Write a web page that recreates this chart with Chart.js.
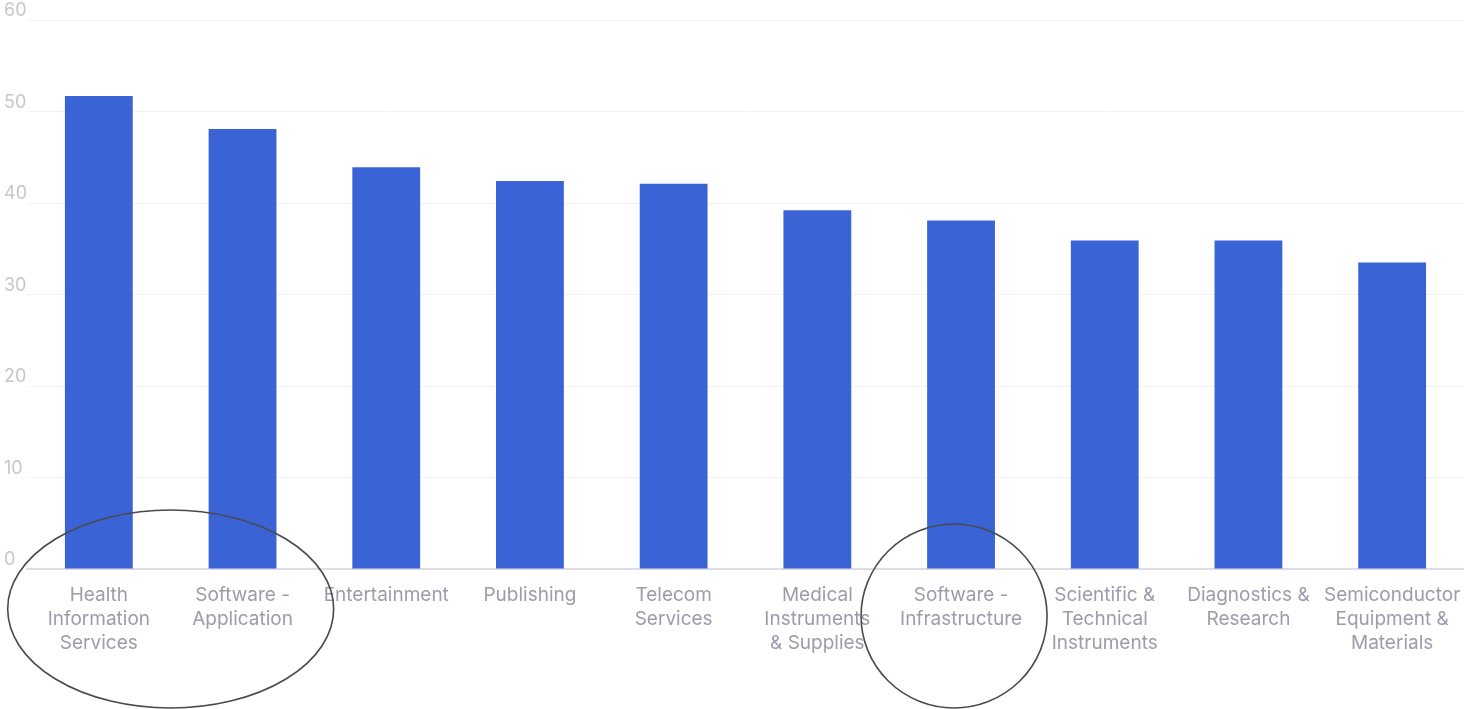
<!DOCTYPE html>
<html>
<head>
<meta charset="utf-8">
<script src="https://cdn.jsdelivr.net/npm/chart.js@4.4.1/dist/chart.umd.min.js"></script>
<style>
  html, body { margin: 0; padding: 0; background: #fff; }
  #wrap { width: 1464px; height: 709px; }
</style>
</head>
<body>
<div id="wrap"><canvas id="myChart" width="1464" height="709"></canvas></div>
<script>
const industries = [
  ['Health', 'Information', 'Services'],
  ['Software -', 'Application'],
  'Entertainment',
  'Publishing',
  ['Telecom', 'Services'],
  ['Medical', 'Instruments', '& Supplies'],
  ['Software -', 'Infrastructure'],
  ['Scientific &', 'Technical', 'Instruments'],
  ['Diagnostics &', 'Research'],
  ['Semiconductor', 'Equipment &', 'Materials']
];
const values = [51.7, 48.1, 43.9, 42.4, 42.1, 39.2, 38.1, 35.9, 35.9, 33.5];
const yTicks = [0, 10, 20, 30, 40, 50, 60];

// pen circles around a few of the categories
const circled = [
  { from: 0, to: 1, rx: 163, ry: 99, dx: 0, dy: 40 },
  { from: 6, to: 6, rx: 93, ry: 92, dx: -7, dy: 47 }
];

const circlePlugin = {
  id: 'circles',
  afterDraw(chart) {
    const ctx = chart.ctx;
    const x = chart.scales.x;
    const bottom = chart.chartArea.bottom;
    ctx.save();
    ctx.strokeStyle = '#4a4a4a';
    ctx.lineWidth = 1.6;
    circled.forEach(c => {
      const cx = (x.getPixelForValue(c.from) + x.getPixelForValue(c.to)) / 2 + c.dx;
      ctx.beginPath();
      ctx.ellipse(cx, bottom + c.dy, c.rx, c.ry, 0, 0, Math.PI * 2);
      ctx.stroke();
    });
    ctx.restore();
  }
};

new Chart(document.getElementById('myChart'), {
  type: 'bar',
  data: {
    labels: industries,
    datasets: [{
      data: values,
      backgroundColor: '#3a64d6',
      borderWidth: 0,
      categoryPercentage: 0.8,
      barPercentage: 0.59
    }]
  },
  options: {
    responsive: false,
    animation: false,
    layout: { padding: { top: 20, left: 4, right: 0, bottom: 40 } },
    plugins: { legend: { display: false }, tooltip: { enabled: false } },
    scales: {
      x: {
        grid: { display: false, drawTicks: false },
        border: { color: '#dcdce8', width: 2 },
        // let the last label run to the edge of the canvas
        afterFit: scale => { scale.paddingRight = 0; scale.paddingLeft = 0; },
        ticks: {
          color: '#9c9cab',
          font: { family: 'Inter', size: 19, lineHeight: 24 / 19 },
          padding: 14,
          maxRotation: 0,
          autoSkip: false
        }
      },
      y: {
        min: 0,
        max: 60,
        afterBuildTicks: axis => { axis.ticks = yTicks.map(v => ({ value: v })); },
        grid: { color: '#f2f2f5', drawTicks: false },
        border: { display: false },
        ticks: {
          color: '#c6c6ce',
          font: { family: 'Inter', size: 18, lineHeight: 1 },
          padding: 0,
          align: 'end',
          crossAlign: 'far'
        }
      }
    }
  },
  plugins: [circlePlugin]
});
</script>
</body>
</html>
